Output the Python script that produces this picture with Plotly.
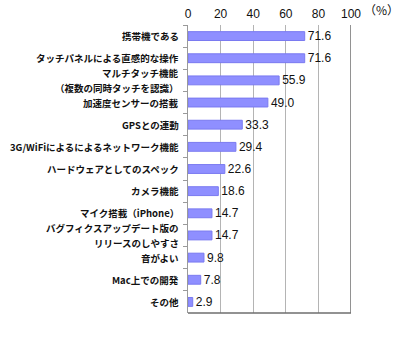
import plotly.graph_objects as go

# Survey items and share of respondents (%); "<br>" marks a wrapped label
categories = [
    "携帯機である",
    "タッチパネルによる直感的な操作",
    "マルチタッチ機能<br>（複数の同時タッチを認識）",
    "加速度センサーの搭載",
    "GPSとの連動",
    "3G/WiFiによるによるネットワーク機能",
    "ハードウェアとしてのスペック",
    "カメラ機能",
    "マイク搭載（iPhone）",
    "バグフィクスアップデート版の<br>リリースのしやすさ",
    "音がよい",
    "Mac上での開発",
    "その他",
]
values = [71.6, 71.6, 55.9, 49.0, 33.3, 29.4, 22.6, 18.6, 14.7, 14.7, 9.8, 7.8, 2.9]
x_ticks = [0, 20, 40, 60, 80, 100]

FONT = "Noto Sans CJK JP, Noto Sans, sans-serif"
LATIN = "Arial, Liberation Sans, sans-serif"

fig = go.Figure(
    go.Bar(
        x=values,
        y=categories,
        orientation="h",
        marker=dict(color="#8f8fff", line=dict(color="#7a7af0", width=1)),
        text=[f"{v:.1f}" for v in values],
        textposition="outside",
        constraintext="none",
        textfont=dict(size=12, color="#111111", family=LATIN),
        cliponaxis=False,
        width=0.4,
    )
)

# Category labels as annotations so wrapped labels get wider line spacing
label_font = dict(size=9.5, family=FONT, color="#111111", weight="bold")
annotations = []
for cat in categories:
    lines = cat.split("<br>")
    n = len(lines)
    for i, line in enumerate(lines):
        annotations.append(dict(
            text=line, xref="paper", yref="y", x=0, y=cat,
            xanchor="right", yanchor="middle", xshift=-7,
            yshift=(n - 1) * 7.5 - i * 15, showarrow=False, font=label_font,
        ))

annotations.append(dict(
    text="（%）", xref="paper", yref="paper", x=1, y=1,
    xanchor="left", yanchor="bottom", xshift=11, yshift=5, showarrow=False,
    font=dict(size=12, family=FONT, color="#111111"),
))

fig.update_layout(
    width=400,
    height=341,
    margin=dict(l=188, r=49, t=25, b=28),
    paper_bgcolor="white",
    plot_bgcolor="white",
    showlegend=False,
    font=dict(family=FONT, color="#111111"),
    xaxis=dict(
        side="top",
        range=[0, 100],
        tickvals=x_ticks,
        ticktext=[str(t) for t in x_ticks],
        tickfont=dict(size=12, family=LATIN, color="#111111"),
        showgrid=True,
        gridcolor="#b4b4b4",
        gridwidth=1,
        zeroline=False,
        showline=False,
        ticks="",
        ticklabelstandoff=4,
        automargin=False,
        fixedrange=True,
    ),
    yaxis=dict(
        autorange="reversed",
        showticklabels=False,
        showline=True,
        linecolor="#9a9a9a",
        linewidth=1,
        ticks="outside",
        tickson="boundaries",
        ticklen=4,
        tickcolor="#9a9a9a",
        showgrid=False,
        automargin=False,
    ),
    shapes=[
        # right frame edge at 100%
        dict(type="line", xref="x", yref="paper", x0=100, x1=100, y0=0, y1=1,
             line=dict(color="#6e6e6e", width=1.5)),
        # bottom frame edge
        dict(type="line", xref="paper", yref="paper", x0=0, x1=1, y0=0, y1=0,
             line=dict(color="#6e6e6e", width=1.5)),
    ],
    annotations=annotations,
)

fig.write_html("out.html")
